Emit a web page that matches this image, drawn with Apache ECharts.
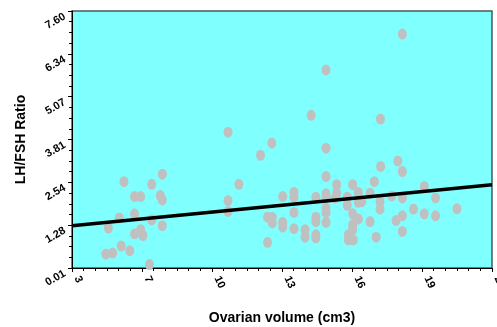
<!DOCTYPE html>
<html>
<head>
<meta charset="utf-8">
<script src="https://cdn.jsdelivr.net/npm/echarts@6/dist/echarts.min.js"></script>
<style>html,body{margin:0;padding:0;background:#fff;}#c{width:497px;height:327px;}</style>
</head>
<body>
<div id="c"></div>
<script>
// Ovarian volume (cm3) values
var volume = [7.40,5.70,6.93,6.17,6.44,7.31,7.40,6.17,5.49,6.93,5.01,7.40,6.44,6.17,6.54,5.58,5.96,4.90,5.20,6.83,
  10.31,10.31,10.79,10.31,12.25,11.75,12.06,12.27,12.27,12.06,12.73,12.73,12.73,13.23,13.23,13.23,13.23,13.72,13.72,
  14.20,14.20,14.20,14.20,14.20,13.99,14.65,14.65,14.65,14.65,14.65,14.65,14.65,14.65,15.12,15.12,15.05,15.59,15.59,
  15.83,15.83,15.83,15.83,15.64,15.64,15.86,16.08,16.08,16.23,16.08,16.60,16.60,16.79,16.87,17.04,17.04,17.07,17.06,
  17.56,17.75,17.83,18.03,18.03,18.03,18.03,18.03,18.52,19.00,19.00,19.50,19.50,20.45];
// LH/FSH ratio values
var ratio = [2.78,2.56,2.48,2.12,2.12,2.15,2.02,1.61,1.49,1.43,1.19,1.26,1.14,1.02,0.97,0.66,0.52,0.42,0.45,0.11,
  2.00,1.68,2.48,4.02,3.70,3.34,1.51,1.51,1.34,0.77,2.12,1.36,1.22,2.25,2.10,1.65,1.17,1.14,0.92,
  2.10,1.51,1.38,0.99,0.90,4.52,5.86,3.55,2.71,2.20,2.08,1.78,1.65,1.36,2.47,2.22,2.08,2.10,1.86,
  2.47,1.61,1.29,1.14,0.99,0.84,0.84,2.24,1.95,1.97,1.46,2.22,1.38,2.56,0.92,1.97,1.75,3.01,4.41,
  2.14,1.41,3.17,2.86,2.08,1.55,1.09,6.92,1.75,2.42,1.61,2.08,1.55,1.76];
// regression line end points
var lineX = [3.4, 22.0];
var lineY = [1.26, 2.47];
// axis ticks
var xTickLabels = ['3','7','10','13','16','19','22'];
var yTickLabels = ['0.01','1.28','2.54','3.81','5.07','6.34','7.60'];
var xMin = 3.4, xMax = 22.0, xStep = 3.1;
var yMin = 0.01, yMax = 7.60, yStep = 1.265;

var pts = volume.map(function(v,i){return [v, ratio[i]];});
var linePts = lineX.map(function(v,i){return [v, lineY[i]];});
var font = '"Liberation Sans", Arial, sans-serif';

var chart = echarts.init(document.getElementById('c'), null, {renderer:'canvas'});
chart.setOption({
  animation:false,
  grid:{left:72, right:5, top:11, bottom:59, containLabel:false, outerBoundsMode:'none',
    show:true, backgroundColor:'#80ffff', borderColor:'#4a5a5a', borderWidth:1.5},
  xAxis:{
    type:'value', min:xMin, max:xMax, interval:xStep,
    name:'Ovarian volume (cm3)', nameLocation:'middle', nameGap:43,
    nameTextStyle:{fontFamily:font, fontWeight:'bold', fontSize:14, color:'#000'},
    axisLine:{show:true, onZero:false, lineStyle:{color:'#000', width:1}},
    axisTick:{show:true, length:4, lineStyle:{color:'#000'}},
    minorTick:{show:true, splitNumber:6, length:3, lineStyle:{color:'#000'}},
    splitLine:{show:false},
    axisLabel:{rotate:-65, margin:11, align:'left', verticalAlign:'bottom', hideOverlap:false, fontFamily:font, fontWeight:'bold', fontSize:11, color:'#000',
      formatter:function(v){return xTickLabels[Math.round((v-xMin)/xStep)];}}
  },
  yAxis:{
    type:'value', min:yMin, max:yMax, interval:yStep,
    name:'LH/FSH Ratio', nameLocation:'middle', nameGap:44,
    nameTextStyle:{fontFamily:font, fontWeight:'bold', fontSize:14, color:'#000'},
    axisLine:{show:true, onZero:false, lineStyle:{color:'#000', width:1}},
    axisTick:{show:true, length:4, lineStyle:{color:'#000'}},
    minorTick:{show:true, splitNumber:4, length:3, lineStyle:{color:'#000'}},
    splitLine:{show:false},
    axisLabel:{rotate:30, margin:10, align:'right', verticalAlign:'top', fontFamily:font, fontWeight:'bold', fontSize:11, color:'#000',
      formatter:function(v){return yTickLabels[Math.round((v-yMin)/yStep)];}}
  },
  series:[
    {type:'scatter', data:pts, symbol:'circle', symbolSize:[9,11], itemStyle:{color:'#c0c0c0', opacity:1}, z:2},
    {type:'line', data:linePts, symbol:'none', lineStyle:{color:'#000', width:3.5}, z:3}
  ]
});
</script>
</body>
</html>
